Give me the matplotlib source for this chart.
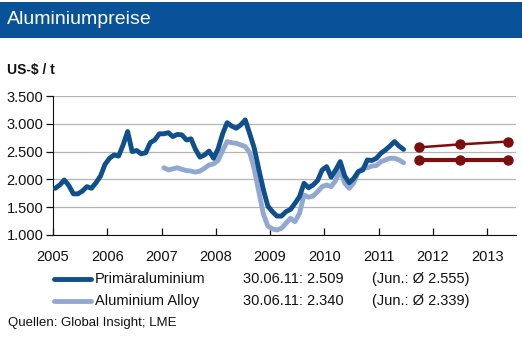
import matplotlib
matplotlib.use("Agg")
import matplotlib.pyplot as plt
from matplotlib.patches import Rectangle
from matplotlib.lines import Line2D
import numpy as np

plt.rcParams['font.family'] = ['Liberation Sans', 'DejaVu Sans']

# ---- data ----
primary_start = 2005  # January 2005, monthly
primary = [1840, 1900, 1990, 1890, 1740, 1740, 1790, 1870, 1840, 1940, 2060, 2270,
           2380, 2440, 2420, 2620, 2860, 2500, 2520, 2460, 2480, 2660, 2710, 2820,
           2820, 2840, 2770, 2810, 2800, 2710, 2730, 2540, 2400, 2440, 2510, 2380,
           2550, 2820, 3020, 2960, 2920, 2980, 3070, 2820, 2560, 2180, 1820, 1520,
           1420, 1340, 1340, 1420, 1460, 1570, 1690, 1930, 1850, 1900, 1980, 2170,
           2230, 2040, 2170, 2320, 2060, 1940, 2020, 2140, 2170, 2350, 2340, 2380,
           2470, 2530, 2600, 2680, 2600, 2540]
alloy_start = 2007  # January 2007, monthly
alloy = [2210, 2170, 2190, 2210, 2180, 2160, 2150, 2130, 2150, 2200, 2260, 2280,
         2340, 2520, 2680, 2660, 2650, 2620, 2590, 2480, 2180, 1780, 1380, 1160,
         1110, 1090, 1120, 1210, 1300, 1240, 1390, 1720, 1680, 1700, 1780, 1870,
         1900, 1870, 1980, 2170, 1930, 1840, 1940, 2140, 2200, 2210, 2240, 2250,
         2320, 2350, 2380, 2380, 2350, 2300]
forecast_x = [2011.75, 2012.5, 2013.375]
forecast_primary = [2577, 2630, 2680]
forecast_alloy = [2340, 2340, 2340]

yticks = [1000, 1500, 2000, 2500, 3000, 3500]
ytick_labels = ["1.000", "1.500", "2.000", "2.500", "3.000", "3.500"]
xticks = list(range(2005, 2014))

legend_names = ["Primäraluminium", "Aluminium Alloy"]
legend_last = ["30.06.11: 2.509", "30.06.11: 2.340"]
legend_avg = ["(Jun.: Ø 2.555)", "(Jun.: Ø 2.339)"]

c_primary = "#0f4f8c"
c_alloy = "#91a8d0"
c_fc = "#7c0e10"
c_bar = "#0a5298"

W, H = 522, 341
fig = plt.figure(figsize=(W / 100, H / 100), dpi=100)

# title bar
fig.patches.append(Rectangle((0, 1 - 38 / H), 1, 36 / H, transform=fig.transFigure,
                             facecolor=c_bar, edgecolor="none"))
fig.text(7 / W, 1 - 20 / H, "Aluminiumpreise", color="white", fontsize=14,
         va="center", ha="left")
fig.text(7 / W, 1 - 70 / H, "US-$ / t", color="#111111", fontsize=10, fontweight="bold",
         va="center", ha="left")

ax = fig.add_axes([53 / W, 1 - 235 / H, (516 - 53) / W, (235 - 96) / H])

xp = np.array([primary_start + (i + 0.5) / 12 for i in range(len(primary))])
xa = np.array([alloy_start + (i + 0.5) / 12 for i in range(len(alloy))])
ax.plot(xa, alloy, color=c_alloy, lw=3.5, solid_capstyle="round", zorder=3)
ax.plot(xp, primary, color=c_primary, lw=3.5, solid_capstyle="round", zorder=4)
ax.plot(forecast_x, forecast_primary, color=c_fc, lw=1.8, marker="o", ms=6.5, zorder=5)
ax.plot(forecast_x, forecast_alloy, color=c_fc, lw=3.0, marker="o", ms=6.5, zorder=5)

ax.set_xlim(2005, 2013.53)
ax.set_ylim(1000, 3500)
ax.set_yticks(yticks)
ax.set_yticklabels(ytick_labels)
ax.set_xticks(xticks)
ax.set_xticklabels([str(x) for x in xticks])
ax.grid(axis="y", color="#b5b5b5", lw=0.9)
ax.set_axisbelow(True)
for s in ["top", "right"]:
    ax.spines[s].set_visible(False)
ax.spines["left"].set_color("#111111")
ax.spines["bottom"].set_color("#111111")
ax.tick_params(axis="y", direction="out", length=5, width=0.9, labelsize=10.5, pad=2,
               colors="#111111")
ax.tick_params(axis="x", direction="in", length=5, width=0.9, labelsize=10.5, pad=11,
               colors="#111111")

# legend
rows_y = [279, 301]
cols = [c_primary, c_alloy]
for i in range(2):
    yf = 1 - rows_y[i] / H
    fig.lines.append(Line2D([54 / W, 91 / W], [yf, yf], transform=fig.transFigure,
                            color=cols[i], lw=3.5, solid_capstyle="round"))
    fig.text(95 / W, yf, legend_names[i], fontsize=10.5, va="center", ha="left",
             color="#111111")
    fig.text(243 / W, yf, legend_last[i], fontsize=10.5, va="center", ha="left",
             color="#111111")
    fig.text(372 / W, yf, legend_avg[i], fontsize=10.5, va="center", ha="left",
             color="#111111")

fig.text(8 / W, 1 - 323 / H, "Quellen: Global Insight; LME", fontsize=9.5,
         va="center", ha="left", color="#111111")

fig.savefig("out.png", dpi=100)
